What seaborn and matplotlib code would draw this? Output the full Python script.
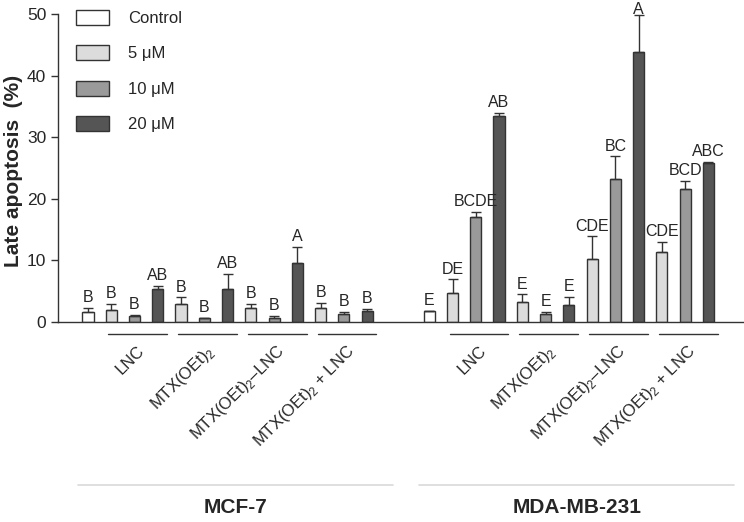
import numpy as np
import pandas as pd
import matplotlib
matplotlib.use("Agg")
import matplotlib.pyplot as plt
import matplotlib.transforms as mtransforms
import seaborn as sns

# --- data ---
cell_lines = ["MCF-7", "MDA-MB-231"]
treatments = ["LNC", r"MTX(OEt)$_\mathregular{2}$",
              r"MTX(OEt)$_\mathregular{2}$–LNC", r"MTX(OEt)$_\mathregular{2}$ + LNC"]
doses = ["Control", "5 μM", "10 μM", "20 μM"]

# bar order inside a cell line: control, then each treatment at 5 / 10 / 20 µM
bar_doses = ["Control"] + ["5 μM", "10 μM", "20 μM"] * 4

mcf7_mean = [1.6, 1.9, 0.9, 5.4, 2.9, 0.6, 5.4, 2.3, 0.7, 9.6, 2.3, 1.35, 1.8]
mcf7_sd = [0.7, 1.1, 0.25, 0.45, 1.1, 0.1, 2.35, 0.6, 0.3, 2.6, 0.8, 0.35, 0.35]
mcf7_letters = ["B", "B", "B", "AB", "B", "B", "AB", "B", "B", "A", "B", "B", "B"]

mda_mean = [1.75, 4.65, 17.1, 33.4, 3.2, 1.25, 2.8, 10.3, 23.2, 43.9, 11.3, 21.6, 25.75]
mda_sd = [0.1, 2.25, 0.75, 0.5, 1.3, 0.35, 1.3, 3.6, 3.7, 6.0, 1.7, 1.25, 0.3]
mda_letters = ["E", "DE", "BCDE", "AB", "E", "E", "E", "CDE", "BC", "A", "CDE", "BCD", "ABC"]

palette = {"Control": "#ffffff", "5 μM": "#dcdcdc", "10 μM": "#9a9a9a", "20 μM": "#555555"}

# long table, x as slot positions (gap between the two cell lines)
gap = 14.67
rows = []
for c, (means, sds, letters) in enumerate([(mcf7_mean, mcf7_sd, mcf7_letters),
                                           (mda_mean, mda_sd, mda_letters)]):
    for j in range(len(means)):
        rows.append({"cell": cell_lines[c], "dose": bar_doses[j], "pos": c * gap + j,
                     "mean": means[j], "sd": sds[j], "letter": letters[j]})
df = pd.DataFrame(rows)

sns.set_style("ticks")
plt.rcParams["font.family"] = ["Liberation Sans", "DejaVu Sans"]
plt.rcParams["mathtext.fontset"] = "custom"
plt.rcParams["mathtext.rm"] = "Liberation Sans"

edge = "#333333"
fig = plt.figure(figsize=(7.44, 5.22), dpi=100)
ax = fig.add_axes([58 / 744, 1 - 322 / 522, 686 / 744, 308 / 522])

sns.barplot(data=df, x="pos", y="mean", hue="dose", hue_order=doses, palette=palette,
            native_scale=True, dodge=False, width=0.48, edgecolor=edge, linewidth=1,
            errorbar=None, ax=ax)

# upper error bars only, like the original
ax.errorbar(df["pos"], df["mean"], yerr=[np.zeros(len(df)), df["sd"]], fmt="none",
            ecolor=edge, elinewidth=1, capsize=3.5, capthick=1, zorder=3)

for _, r in df.iterrows():
    top = r["mean"] + r["sd"]
    # the tallest one sits right at the top of the axis, keep its letter inside the figure
    dy = 2 if top < 48 else -1.5
    ax.annotate(r["letter"], (r["pos"], top), xytext=(0, dy),
                textcoords="offset points", ha="center", va="bottom", fontsize=11.5,
                annotation_clip=False)

ax.set_ylim(0, 50)
ax.set_xlim(-1.29, 28.2)
ax.set_yticks([0, 10, 20, 30, 40, 50])
ax.set_xticks([])
ax.set_xlabel("")
ax.set_ylabel("Late apoptosis  (%)", fontsize=15, fontweight="bold")
ax.yaxis.set_label_coords(-0.051, 0.49)
ax.tick_params(axis="y", labelsize=12.5, length=5, width=1, color=edge)
sns.despine(ax=ax)
for s in ["left", "bottom"]:
    ax.spines[s].set_color(edge)
    ax.spines[s].set_linewidth(1)

handles, labels = ax.get_legend_handles_labels()
ax.legend(handles, labels, loc="upper left", bbox_to_anchor=(0.026, 1.014), frameon=False,
          fontsize=12, handlelength=2.0, handleheight=1.0, handletextpad=1.15,
          labelspacing=1.16, borderpad=0, borderaxespad=0)

# group annotations under the axis
trans = mtransforms.blended_transform_factory(ax.transData, ax.transAxes)
for c in range(2):
    base = c * gap
    for t, name in enumerate(treatments):
        first = base + 1 + 3 * t
        x0, x1 = first - 0.13, first + 2 + 0.4
        ax.plot([x0, x1], [-0.039, -0.039], color=edge, lw=1, transform=trans, clip_on=False)
        ax.text((x0 + x1) / 2 + 0.2, -0.085, name, rotation=45, rotation_mode="anchor",
                ha="right", va="center", fontsize=12, transform=trans)
    gx0, gx1 = base - 0.43, base + 13.1
    ax.plot([gx0, gx1], [-0.53, -0.53], color="#d9d9d9", lw=1.2, transform=trans,
            clip_on=False)
    ax.text((gx0 + gx1) / 2, -0.603, cell_lines[c], ha="center", va="center", fontsize=15,
            fontweight="bold", family=["Liberation Sans Narrow", "Liberation Sans"],
            transform=trans)

fig.savefig("out.png", dpi=100)
